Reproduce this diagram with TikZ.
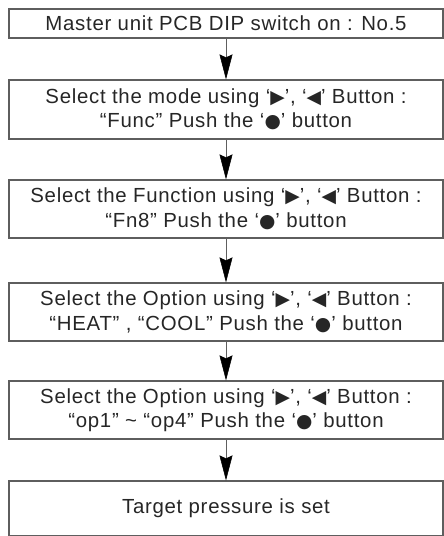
\documentclass[tikz,border=0pt]{standalone}
\usepackage{fontspec}
\usepackage{xcolor}
\setmainfont{Liberation Sans}[LetterSpace=3.5]
\newfontfamily\symfont[Scale=0.92]{DejaVu Sans}
\usetikzlibrary{arrows.meta}

\definecolor{boxline}{HTML}{5E5E5E}
\definecolor{boxtext}{HTML}{262626}

\newcommand{\rtri}{{\symfont ▶}}
\newcommand{\ltri}{{\symfont ◀}}
\newcommand{\bdot}{{\symfont ●}}

\begin{document}
\begin{tikzpicture}[x=1pt,y=-1pt]
    % Step box and connector style definitions
    \tikzset{
        stepbox/.style={draw=boxline, line width=1.2pt, text=boxtext, minimum width=434pt,
            inner sep=0pt, align=center, font=\fontsize{20.4}{24.5}\selectfont},
        flow/.style={draw=boxline, line width=1pt,
            -{Stealth[length=25pt,width=13pt,inset=3pt,black,line width=0.5pt]}}
    }
    \useasboundingbox (0,0) rectangle (444,536);

    % ==========================================
    % STEPS (top to bottom)
    % ==========================================
    \node[stepbox, minimum height=29pt] (dip) at (226,23.5) {Master unit PCB DIP switch on : No.5};
    \node[stepbox, minimum height=59pt] (mode) at (226,109.5)
        {Select the mode using ‘\rtri’, ‘\ltri’ Button :\\“Func” Push the ‘\bdot’ button};
    \node[stepbox, minimum height=58pt] (func) at (226,209)
        {Select the Function using ‘\rtri’, ‘\ltri’ Button :\\“Fn8” Push the ‘\bdot’ button};
    \node[stepbox, minimum height=58pt] (heatcool) at (226,312)
        {Select the Option using ‘\rtri’, ‘\ltri’ Button :\\“HEAT” , “COOL” Push the ‘\bdot’ button};
    \node[stepbox, minimum height=58pt] (opnum) at (226,410)
        {Select the Option using ‘\rtri’, ‘\ltri’ Button :\\“op1” \textasciitilde{} “op4” Push the ‘\bdot’ button};
    \node[stepbox, minimum height=55pt] (target) at (226,508.5) {Target pressure is set};

    % Connectors between the steps
    \draw[flow] (dip) -- (mode);
    \draw[flow] (mode) -- (func);
    \draw[flow] (func) -- (heatcool);
    \draw[flow] (heatcool) -- (opnum);
    \draw[flow] (opnum) -- (target);
\end{tikzpicture}
\end{document}
